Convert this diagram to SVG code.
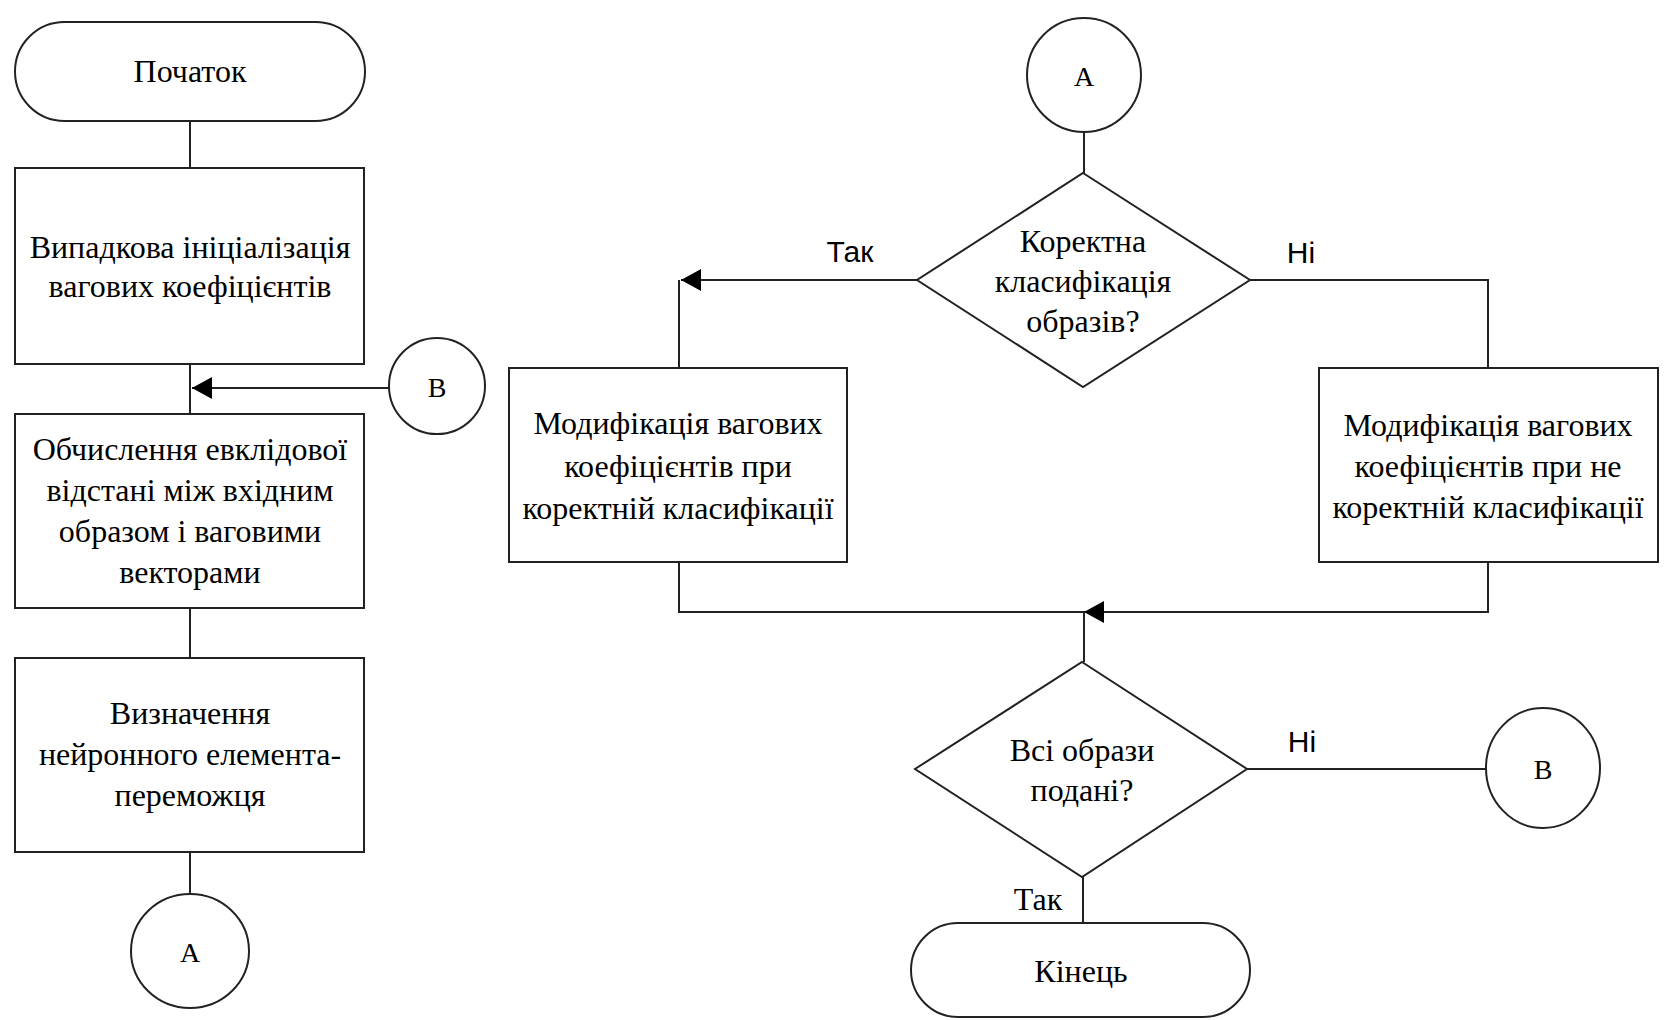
<svg xmlns="http://www.w3.org/2000/svg" width="1664" height="1020" viewBox="0 0 1664 1020">
<style>
.s{fill:#fff;stroke:#222;stroke-width:2}
.c{fill:none;stroke:#222;stroke-width:2}
.t{font-family:"Liberation Serif","Times New Roman",serif;font-size:32px;fill:#000;text-anchor:middle}
.l{font-family:"Liberation Sans",Arial,sans-serif;font-size:30px;fill:#000;text-anchor:middle}
</style>
<defs>
<marker id="ar" markerWidth="20" markerHeight="22" refX="20" refY="11" orient="auto" markerUnits="userSpaceOnUse">
<path d="M0,0 L20,11 L0,22 Z" fill="#000"/>
</marker>
</defs>
<rect width="1664" height="1020" fill="#fff"/>
<g id="connectors">
<line class="c" x1="190" y1="121" x2="190" y2="168"/>
<line class="c" x1="190" y1="364" x2="190" y2="414"/>
<line class="c" x1="389" y1="388" x2="192" y2="388" marker-end="url(#ar)"/>
<line class="c" x1="190" y1="608" x2="190" y2="658"/>
<line class="c" x1="190" y1="852" x2="190" y2="894"/>
<line class="c" x1="1084" y1="132" x2="1084" y2="173"/>
<line class="c" x1="917" y1="280" x2="681" y2="280" marker-end="url(#ar)"/>
<line class="c" x1="679" y1="280" x2="679" y2="368"/>
<polyline class="c" points="1250,280 1488,280 1488,368"/>
<polyline class="c" points="679,562 679,612 1084,612"/>
<polyline class="c" points="1488,562 1488,612 1084,612" marker-end="url(#ar)"/>
<line class="c" x1="1084" y1="612" x2="1084" y2="662"/>
<line class="c" x1="1247" y1="769" x2="1486" y2="769"/>
<line class="c" x1="1083" y1="877" x2="1083" y2="923"/>
<text class="l" x="850" y="262">Так</text>
<text class="l" x="1301" y="263">Ні</text>
<text class="l" x="1302" y="752">Ні</text>
<text class="t" x="1038" y="910">Так</text>
</g>
<g id="start">
<rect class="s" x="15" y="22" width="350" height="99" rx="49.5"/>
<text class="t" x="190" y="82">Початок</text>
</g>
<g id="init">
<rect class="s" x="15" y="168" width="349" height="196"/>
<text class="t" x="190" y="258">Випадкова ініціалізація</text>
<text class="t" x="190" y="297">вагових коефіцієнтів</text>
</g>
<g id="connB1">
<ellipse class="s" cx="437" cy="386" rx="48" ry="48"/>
<text class="t" x="437" y="397" style="font-size:28px">В</text>
</g>
<g id="dist">
<rect class="s" x="15" y="414" width="349" height="194"/>
<text class="t" x="190" y="460">Обчислення евклідової</text>
<text class="t" x="190" y="501">відстані між вхідним</text>
<text class="t" x="190" y="542">образом і ваговими</text>
<text class="t" x="190" y="583">векторами</text>
</g>
<g id="winner">
<rect class="s" x="15" y="658" width="349" height="194"/>
<text class="t" x="190" y="724">Визначення</text>
<text class="t" x="190" y="765">нейронного елемента-</text>
<text class="t" x="190" y="806">переможця</text>
</g>
<g id="connA1">
<ellipse class="s" cx="190" cy="951" rx="59" ry="57"/>
<text class="t" x="190" y="962" style="font-size:28px">А</text>
</g>
<g id="connA2">
<ellipse class="s" cx="1084" cy="75" rx="57" ry="57"/>
<text class="t" x="1084" y="86" style="font-size:28px">А</text>
</g>
<g id="dec1">
<polygon class="s" points="1083,173 1250,280 1083,387 917,280"/>
<text class="t" x="1083" y="252">Коректна</text>
<text class="t" x="1083" y="292">класифікація</text>
<text class="t" x="1083" y="332">образів?</text>
</g>
<g id="modYes">
<rect class="s" x="509" y="368" width="338" height="194"/>
<text class="t" x="678" y="434">Модифікація вагових</text>
<text class="t" x="678" y="477">коефіцієнтів при</text>
<text class="t" x="678" y="519">коректній класифікації</text>
</g>
<g id="modNo">
<rect class="s" x="1319" y="368" width="339" height="194"/>
<text class="t" x="1488" y="436">Модифікація вагових</text>
<text class="t" x="1488" y="477">коефіцієнтів при не</text>
<text class="t" x="1488" y="518">коректній класифікації</text>
</g>
<g id="dec2">
<polygon class="s" points="1082,662 1247,769 1082,877 915,769"/>
<text class="t" x="1082" y="761">Всі образи</text>
<text class="t" x="1082" y="801">подані?</text>
</g>
<g id="connB2">
<ellipse class="s" cx="1543" cy="768" rx="57" ry="60"/>
<text class="t" x="1543" y="779" style="font-size:28px">В</text>
</g>
<g id="end">
<rect class="s" x="911" y="923" width="339" height="94" rx="47"/>
<text class="t" x="1081" y="982">Кінець</text>
</g>
</svg>
